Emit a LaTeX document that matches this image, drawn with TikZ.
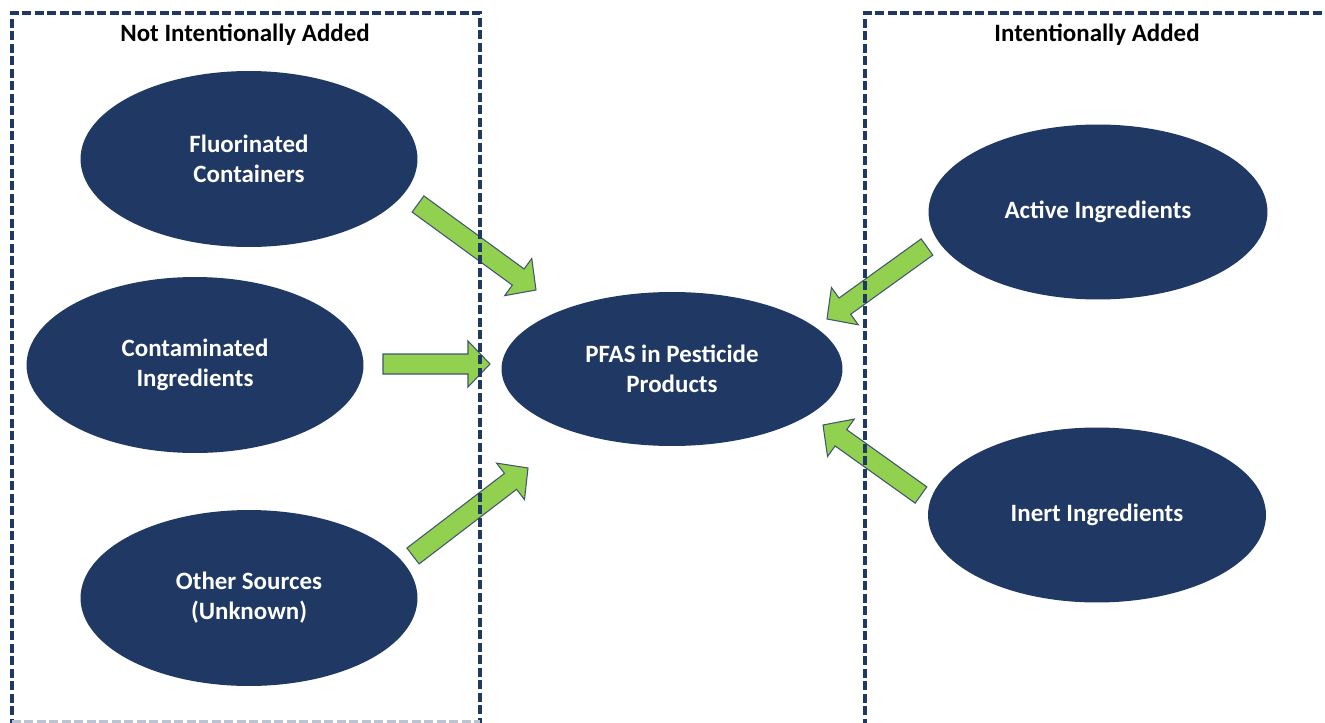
\documentclass[tikz,border=0pt]{standalone}
\usepackage{fontspec}
\setmainfont{Carlito}
\usetikzlibrary{shapes.geometric,calc}
\definecolor{navy}{HTML}{203864}
\definecolor{agreen}{HTML}{92D050}
\definecolor{aedge}{HTML}{41556E}
\tikzset{
  oval/.style={ellipse, fill=navy, draw=none, text=white, font=\bfseries\fontsize{14.2}{17}\selectfont, align=center, inner sep=0pt},
  zone/.style={draw=navy, line width=0.07cm, dash pattern=on 0.18cm off 0.07cm},
  zonelabel/.style={font=\bfseries\fontsize{14.2}{17}\selectfont, text=black},
  blockarrow/.style={fill=agreen, draw=aedge, line width=0.6pt, line join=miter}
}
\newcommand\blockarr[2]{%
  \path ($(#2)!0.44cm!(#1)$) coordinate (hb);
  \draw[blockarrow] ($(#1)!0.2cm!90:(#2)$) -- ($(hb)!0.2cm!-90:(#1)$) -- ($(hb)!0.46cm!-90:(#1)$) -- (#2)
     -- ($(hb)!0.46cm!90:(#1)$) -- ($(hb)!0.2cm!90:(#1)$) -- ($(#1)!0.2cm!-90:(#2)$) -- cycle;}
\begin{document}
\begin{tikzpicture}[x=0.02cm,y=-0.02cm]
\useasboundingbox (0,0) rectangle (1325,723);
\fill[white] (0,0) rectangle (1325,723);
% ellipses
\node[oval, minimum width=6.74cm, minimum height=3.52cm] (fc) at (249,159) {Fluorinated\\Containers};
\node[oval, minimum width=6.74cm, minimum height=3.52cm] (ci) at (195,365) {Contaminated\\Ingredients};
\node[oval, minimum width=6.74cm, minimum height=3.52cm] (os) at (249,598) {Other Sources\\(Unknown)};
\node[oval, minimum width=6.82cm, minimum height=3.08cm] (pf) at (672,369) {PFAS in Pesticide\\Products};
\node[oval, minimum width=6.78cm, minimum height=3.5cm] (ai) at (1098,212) {Active Ingredients};
\node[oval, minimum width=6.76cm, minimum height=3.5cm] (ii) at (1097,515) {Inert Ingredients};
% arrow end points
\coordinate (t1) at (418,204); \coordinate (h1) at (536,290);
\coordinate (t2) at (383,364); \coordinate (h2) at (490,364);
\coordinate (t3) at (413,556); \coordinate (h3) at (528,468);
\coordinate (t4) at (927,247); \coordinate (h4) at (827,319);
\coordinate (t5) at (921,495); \coordinate (h5) at (823,425);
\blockarr{t1}{h1}
\blockarr{t2}{h2}
\blockarr{t3}{h3}
\blockarr{t4}{h4}
\blockarr{t5}{h5}
% zones
\begin{scope}
\clip (0,0) rectangle (1325,723);
\draw[zone] (12,740) -- (12,13) -- (480,13) -- (480,740);
\draw[zone, draw=navy!30] (12,722) -- (480,722);
\draw[zone] (865,740) -- (865,13) -- (1340,13);
\end{scope}
\node[zonelabel] (nl) at (245,35) {Not Intentionally Added};
\node[zonelabel] (il) at (1097,35) {Intentionally Added};
\end{tikzpicture}
\end{document}
